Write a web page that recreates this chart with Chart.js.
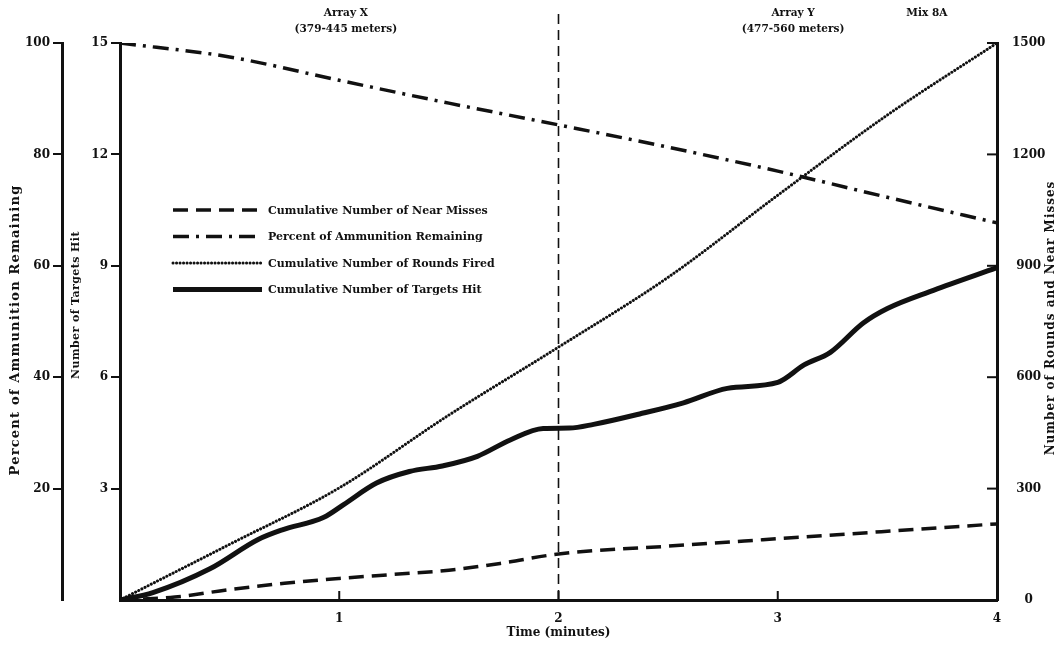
<!DOCTYPE html>
<html><head><meta charset="utf-8">
<script src="https://cdn.jsdelivr.net/npm/chart.js@4.4.1/dist/chart.umd.min.js"></script>
<style>html,body{margin:0;padding:0;background:#fff;}#wrap{width:1064px;height:645px;}</style>
</head><body><div id="wrap"><canvas id="c" width="1064" height="645"></canvas></div>
<script>
// ---- data ----
const timeMinutes = [0, 0.5, 1, 1.5, 2, 2.5, 3, 3.5, 4];
const percentRemaining = [100, 97.5, 93.3, 89.2, 85.3, 81.3, 77, 72.3, 67.7];
const roundsFired = [0, 150, 302, 498, 681, 869, 1090, 1306, 1500];
const missTime = [0, 0.25, 0.5, 0.75, 1, 1.25, 1.5, 1.75, 2, 2.5, 3, 3.5, 4];
const nearMisses = [0, 8, 28, 45, 58, 69, 80, 100, 124, 145, 165, 185, 205];
const hitTime = [0, 0.15, 0.41, 0.63, 0.74, 0.93, 1.02, 1.17, 1.32, 1.47, 1.63, 1.78, 1.93, 2.05, 2.16, 2.37, 2.57, 2.77, 3.0, 3.12, 3.24, 3.39, 3.5, 3.71, 4.0];
const targetsHit = [0, 0.2, 0.84, 1.63, 1.89, 2.23, 2.57, 3.15, 3.46, 3.61, 3.87, 4.31, 4.62, 4.63, 4.73, 5.01, 5.31, 5.70, 5.86, 6.33, 6.67, 7.46, 7.85, 8.34, 8.95];
const dividerTime = [2, 2];
const dividerLevel = [0, 1590];
// ---- tick labels ----
const timeTicks = [1, 2, 3, 4];
const percentTicks = [20, 40, 60, 80, 100];
const hitTicks = [3, 6, 9, 12, 15];
const roundTicks = [0, 300, 600, 900, 1200, 1500];
// ---- texts ----
const seriesNames = ['Cumulative Number of Near Misses', 'Percent of Ammunition Remaining', 'Cumulative Number of Rounds Fired', 'Cumulative Number of Targets Hit'];
const axisTitles = {x: 'Time (minutes)', pct: 'Percent of Ammunition Remaining', hit: 'Number of Targets Hit', rounds: 'Number of Rounds and Near Misses'};
const headers = [
  {t: 1.03, lines: ['Array X', '(379-445 meters)']},
  {t: 3.07, lines: ['Array Y', '(477-560 meters)']},
  {t: 3.68, lines: ['Mix 8A']}
];

const INK = '#111';
const FAM = '"DejaVu Serif", "Liberation Serif", serif';
const pts = (xs, ys) => xs.map((x, i) => ({x, y: ys[i]}));

const datasets = [
  {label: '', legend: false, data: pts(dividerTime, dividerLevel), yAxisID: 'yRounds', borderColor: INK, borderWidth: 1.6, borderDash: [10, 6], clip: false, pointRadius: 0, tension: 0},
  {label: seriesNames[0], legend: true, data: pts(missTime, nearMisses), yAxisID: 'yRounds', borderColor: INK, borderWidth: 3.5, borderDash: [15, 8], pointRadius: 0, cubicInterpolationMode: 'monotone'},
  {label: seriesNames[1], legend: true, data: pts(timeMinutes, percentRemaining), yAxisID: 'yPct', borderColor: INK, borderWidth: 3.5, borderDash: [16, 7, 3, 7], pointRadius: 0, cubicInterpolationMode: 'monotone'},
  {label: seriesNames[2], legend: true, data: pts(timeMinutes, roundsFired), yAxisID: 'yRounds', borderColor: INK, borderWidth: 3, borderDash: [0.1, 3.4], borderCapStyle: 'round', pointRadius: 0, cubicInterpolationMode: 'monotone'},
  {label: seriesNames[3], legend: true, data: pts(hitTime, targetsHit), yAxisID: 'yHit', borderColor: INK, borderWidth: 5, pointRadius: 0, cubicInterpolationMode: 'monotone'}
];

const tickFont = {family: FAM, size: 12, weight: 'bold'};
const setTicks = arr => s => { s.ticks = arr.map(v => ({value: v})); };
const plain = v => String(v);

const decor = {
  id: 'decor',
  afterDraw(chart) {
    const ctx = chart.ctx, a = chart.chartArea, sx = chart.scales.x, sr = chart.scales.yRounds;
    ctx.save();
    ctx.strokeStyle = INK; ctx.fillStyle = INK; ctx.lineWidth = 2;
    timeTicks.forEach(v => { if (v < 4) { const px = sx.getPixelForValue(v); ctx.beginPath(); ctx.moveTo(px, a.bottom); ctx.lineTo(px, a.bottom - 9); ctx.stroke(); } });
    roundTicks.forEach(v => { if (v > 0) { const py = sr.getPixelForValue(v); ctx.beginPath(); ctx.moveTo(a.right, py); ctx.lineTo(a.right - 10, py); ctx.stroke(); } });
    const vtext = (txt, x, y, size, sp) => {
      ctx.save(); ctx.translate(x, y); ctx.rotate(-Math.PI / 2);
      ctx.font = 'bold ' + size + 'px ' + FAM; ctx.letterSpacing = sp + 'px';
      ctx.textAlign = 'center'; ctx.textBaseline = 'middle'; ctx.fillText(txt, 0, 0); ctx.restore();
    };
    vtext(axisTitles.pct, 16, 330, 13, 1.2);
    vtext(axisTitles.hit, 76, 305, 11, 0.4);
    vtext(axisTitles.rounds, 1051, 318, 12, 1.0);
    ctx.font = 'bold 12px ' + FAM; ctx.textAlign = 'center'; ctx.textBaseline = 'middle';
    ctx.fillText(axisTitles.x, sx.getPixelForValue(2), 633);
    ctx.font = 'bold 10.5px ' + FAM;
    headers.forEach(h => { const px = sx.getPixelForValue(h.t); h.lines.forEach((ln, i) => ctx.fillText(ln, px, 13 + i * 16)); });
    const lx0 = a.left + 53, lx1 = a.left + 142, tx = a.left + 148;
    let ly = a.top + 167;
    ctx.textAlign = 'left'; ctx.font = 'bold 11px ' + FAM;
    chart.data.datasets.filter(d => d.legend).forEach(d => {
      ctx.save();
      ctx.lineWidth = d.borderWidth; ctx.setLineDash(d.borderDash || []); ctx.lineCap = d.borderCapStyle || 'butt';
      ctx.beginPath(); ctx.moveTo(lx0, ly); ctx.lineTo(lx1, ly); ctx.stroke(); ctx.restore();
      ctx.fillText(d.label, tx, ly + 1);
      ly += 26.5;
    });
    ctx.restore();
  }
};

new Chart(document.getElementById('c'), {
  type: 'line',
  data: {datasets},
  options: {
    responsive: false, animation: false,
    layout: {padding: {top: 43, left: 0, right: 0, bottom: 0}},
    plugins: {legend: {display: false}, tooltip: {enabled: false}},
    scales: {
      x: {type: 'linear', min: 0, max: 4, afterBuildTicks: setTicks(timeTicks),
          grid: {display: false}, border: {display: true, color: INK, width: 3},
          ticks: {color: INK, font: tickFont, padding: 4, callback: plain}, afterFit: s => { s.height = 45; }},
      yPct: {type: 'linear', position: 'left', weight: 2, min: 0, max: 100, afterBuildTicks: setTicks(percentTicks),
          grid: {display: true, drawOnChartArea: false, drawTicks: true, tickLength: 9, color: INK, lineWidth: 2},
          border: {display: true, color: INK, width: 3},
          ticks: {color: INK, font: tickFont, padding: 3, callback: plain}, afterFit: s => { s.width = 62; }},
      yHit: {type: 'linear', position: 'left', weight: 1, min: 0, max: 15, afterBuildTicks: setTicks(hitTicks),
          grid: {display: true, drawOnChartArea: false, drawTicks: true, tickLength: 9, color: INK, lineWidth: 2},
          border: {display: true, color: INK, width: 3},
          ticks: {color: INK, font: tickFont, padding: 3, callback: plain}, afterFit: s => { s.width = 58; }},
      yRounds: {type: 'linear', position: 'right', min: 0, max: 1500, afterBuildTicks: setTicks(roundTicks),
          grid: {display: false}, border: {display: true, color: INK, width: 3},
          ticks: {color: INK, font: tickFont, padding: 7, crossAlign: 'center', callback: plain}, afterFit: s => { s.width = 67; }}
    }
  },
  plugins: [decor]
});
</script></body></html>
